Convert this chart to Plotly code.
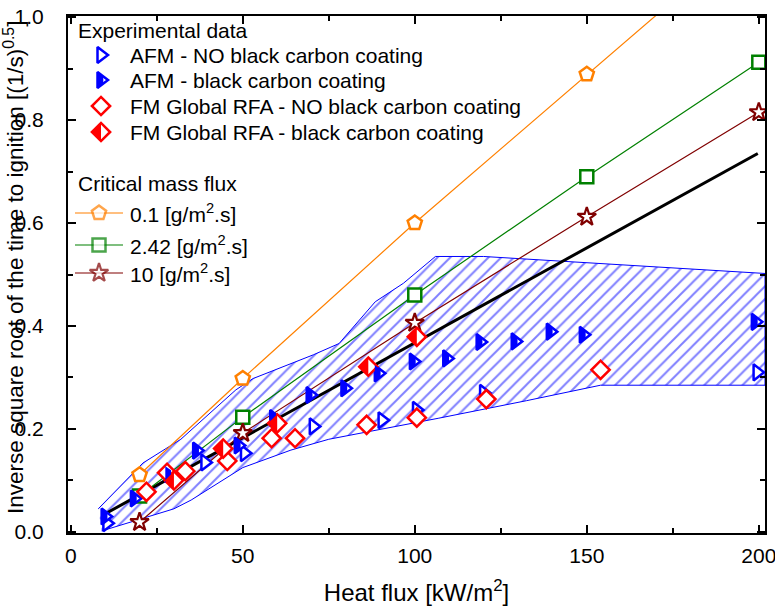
import plotly.graph_objects as go

# ---------------- data ----------------
hf_curve = [20, 50, 100, 150, 200]
cmf_01 = [0.111, 0.298, 0.600, 0.889, 1.175]
cmf_242 = [0.070, 0.223, 0.460, 0.690, 0.912]
cmf_10 = [0.019, 0.192, 0.406, 0.612, 0.815]

fit_x = [9.4, 199.7]
fit_y = [0.033, 0.735]

afm_no_x = [10.5, 39, 50.5, 70.5, 90.5, 100.5, 120, 199.5]
afm_no_y = [0.017, 0.135, 0.153, 0.205, 0.217, 0.237, 0.270, 0.310]

afm_bc_x = [10, 18.5, 28.5, 36.6, 48.7, 59, 69.6, 79.7, 89.4, 99.6, 109.3, 119, 129.2, 139.4, 149, 199]
afm_bc_y = [0.030, 0.065, 0.112, 0.158, 0.168, 0.221, 0.266, 0.279, 0.308, 0.331, 0.337, 0.369, 0.370, 0.389, 0.383, 0.408]

fm_no_x = [22, 28, 33.3, 45.5, 58.4, 65.2, 86, 100.6, 120.8, 154]
fm_no_y = [0.078, 0.115, 0.118, 0.138, 0.182, 0.182, 0.208, 0.222, 0.258, 0.315]

fm_bc_x = [30, 44.3, 60, 86.5, 100.6]
fm_bc_y = [0.100, 0.162, 0.211, 0.321, 0.379]

band_upper_x = [8, 21, 32, 48, 53, 64, 70.5, 78, 84, 88.5, 96.7, 101.5, 106, 120, 201.8]
band_upper_y = [0.045, 0.134, 0.180, 0.276, 0.298, 0.327, 0.344, 0.366, 0.412, 0.447, 0.483, 0.509, 0.535, 0.535, 0.502]
band_lower_x = [201.8, 154, 132.5, 107, 75, 64, 50, 35, 30, 21, 9]
band_lower_y = [0.285, 0.285, 0.255, 0.221, 0.180, 0.159, 0.125, 0.062, 0.045, 0.027, 0.002]

legend_exp = ["AFM - NO black carbon coating", "AFM - black carbon coating",
              "FM Global RFA - NO black carbon coating", "FM Global RFA - black carbon coating"]
legend_cmf = ["0.1 [g/m<sup>2</sup>.s]", "2.42 [g/m<sup>2</sup>.s]", "10 [g/m<sup>2</sup>.s]"]

y_title = "Inverse square root of the time to ignition [(1/s)<sup>0.5</sup>]"
x_title = "Heat flux [kW/m<sup>2</sup>]"

BLUE = "#0000ff"
RED = "#ff0000"
ORANGE = "#ff8000"
GREEN = "#008000"
MAROON = "#800000"
FONT = "Liberation Sans, Arial, sans-serif"

TRI_HALF = "M-3.5,-8.08 L2.29,-4.04 L2.29,4.04 L-3.5,8.08 Z"
DIA_HALF = "M-9.1,0 L0,9.1 L0,-9.1 Z"

fig = go.Figure()

# hatched band
fig.add_trace(go.Scatter(
    x=band_upper_x + band_lower_x, y=band_upper_y + band_lower_y,
    mode="lines", fill="toself", fillcolor="rgba(255,255,255,0)",
    fillpattern=dict(shape="/", fgcolor=BLUE, bgcolor="rgba(255,255,255,0)", size=9, solidity=0.22),
    line=dict(color=BLUE, width=1), showlegend=False, hoverinfo="skip"))

# fit line
fig.add_trace(go.Scatter(x=fit_x, y=fit_y, mode="lines", line=dict(color="black", width=3), showlegend=False))

# critical mass flux curves
curve_specs = [(cmf_01, ORANGE, "pentagon", 15, 2.5), (cmf_242, GREEN, "square", 13, 2.5), (cmf_10, MAROON, "star", 14, 2.2)]
for ys, col, sym, sz, lw in curve_specs:
    fig.add_trace(go.Scatter(x=hf_curve, y=ys, mode="lines+markers",
                             line=dict(color=col, width=1.2),
                             marker=dict(symbol=sym, size=sz, color="white", line=dict(color=col, width=lw)),
                             showlegend=False))

# experimental markers
tri_marker = dict(symbol="triangle-right", size=14, color="white", line=dict(color=BLUE, width=2.5))
dia_marker = dict(symbol="diamond", size=14, color="white", line=dict(color=RED, width=2.5))
fig.add_trace(go.Scatter(x=afm_no_x, y=afm_no_y, mode="markers", marker=tri_marker, showlegend=False))
fig.add_trace(go.Scatter(x=afm_bc_x, y=afm_bc_y, mode="markers", marker=tri_marker, showlegend=False))
fig.add_trace(go.Scatter(x=fm_no_x, y=fm_no_y, mode="markers", marker=dia_marker, showlegend=False))
fig.add_trace(go.Scatter(x=fm_bc_x, y=fm_bc_y, mode="markers", marker=dia_marker, showlegend=False))

shapes = []
for xx, yy in zip(afm_bc_x, afm_bc_y):
    shapes.append(dict(type="path", xref="x", yref="y", xsizemode="pixel", ysizemode="pixel",
                       xanchor=xx, yanchor=yy, path=TRI_HALF, fillcolor=BLUE, line=dict(width=0)))
for xx, yy in zip(fm_bc_x, fm_bc_y):
    shapes.append(dict(type="path", xref="x", yref="y", xsizemode="pixel", ysizemode="pixel",
                       xanchor=xx, yanchor=yy, path=DIA_HALF, fillcolor=RED, line=dict(width=0)))

# ---------------- manual legend (pixel overlay axes) ----------------
annotations = []
def txt(x, y, s):
    annotations.append(dict(x=x, y=y, xref="x2", yref="y2", text=s, showarrow=False,
                            xanchor="left", yanchor="middle", font=dict(size=21, color="black", family=FONT)))

txt(8, 14, "Experimental data")
exp_rows = [39, 64, 90, 116]
for i, (lab, yy) in enumerate(zip(legend_exp, exp_rows)):
    txt(60, yy, lab)
    mk = tri_marker if i < 2 else dia_marker
    mx = 33
    fig.add_trace(go.Scatter(x=[mx], y=[yy], xaxis="x2", yaxis="y2", mode="markers", marker=mk,
                             showlegend=False, hoverinfo="skip"))
    if i == 1:
        shapes.append(dict(type="path", xref="x2", yref="y2", xsizemode="pixel", ysizemode="pixel",
                           xanchor=mx, yanchor=yy, path=TRI_HALF, fillcolor=BLUE, line=dict(width=0)))
    if i == 3:
        shapes.append(dict(type="path", xref="x2", yref="y2", xsizemode="pixel", ysizemode="pixel",
                           xanchor=mx, yanchor=yy, path=DIA_HALF, fillcolor=RED, line=dict(width=0)))

txt(8, 167, "Critical mass flux")
cmf_rows = [197, 229, 257]
for (ys, col, sym, sz, lw), lab, yy in zip(curve_specs, legend_cmf, cmf_rows):
    fig.add_trace(go.Scatter(x=[7, 31, 55], y=[yy, yy, yy], xaxis="x2", yaxis="y2", mode="lines+markers",
                             line=dict(color=col, width=1.2),
                             marker=dict(symbol=sym, size=[0, sz, 0], color="white", line=dict(color=col, width=[0, lw, 0])),
                             showlegend=False, hoverinfo="skip"))
    txt(60, yy, lab)

# y-axis title as rotated annotation (placed in the left margin)
annotations.append(dict(x=(14 - 68) / 697, y=(533 - 268) / 517, xref="paper", yref="paper", text=y_title,
                        textangle=-90, showarrow=False, xanchor="center", yanchor="middle",
                        font=dict(size=22.5, color="black", family=FONT)))

axis_common = dict(showline=True, linewidth=2, linecolor="black", mirror="ticks", ticks="inside",
                   ticklen=8, tickwidth=1.5, tickcolor="black", showgrid=False, zeroline=False,
                   automargin=False, ticklabeloverflow="allow",
                   tickfont=dict(size=21, color="black", family=FONT))

fig.update_layout(
    width=775, height=609, margin=dict(l=68, r=10, t=16, b=76),
    paper_bgcolor="white", plot_bgcolor="white", showlegend=False,
    font=dict(family=FONT, color="black"),
    xaxis=dict(range=[-0.8, 201.8], tickvals=[0, 50, 100, 150, 200],
               minor=dict(ticks="inside", ticklen=5, tickwidth=1.5, tickcolor="black", dtick=25, showgrid=False),
               title=dict(text=x_title, font=dict(size=24, family=FONT), standoff=18),
               ticklabelstandoff=3, **axis_common),
    yaxis=dict(range=[-0.002, 1.002], tickvals=[0, 0.2, 0.4, 0.6, 0.8, 1.0], tickformat=".1f",
               minor=dict(ticks="inside", ticklen=5, tickwidth=1.5, tickcolor="black", dtick=0.1, showgrid=False),
               ticklabelstandoff=18, **axis_common),
    xaxis2=dict(overlaying="x", range=[0, 697], visible=False, fixedrange=True, automargin=False),
    yaxis2=dict(overlaying="y", range=[517, 0], visible=False, fixedrange=True, automargin=False),
    shapes=shapes, annotations=annotations,
)

fig.write_html("out.html")
